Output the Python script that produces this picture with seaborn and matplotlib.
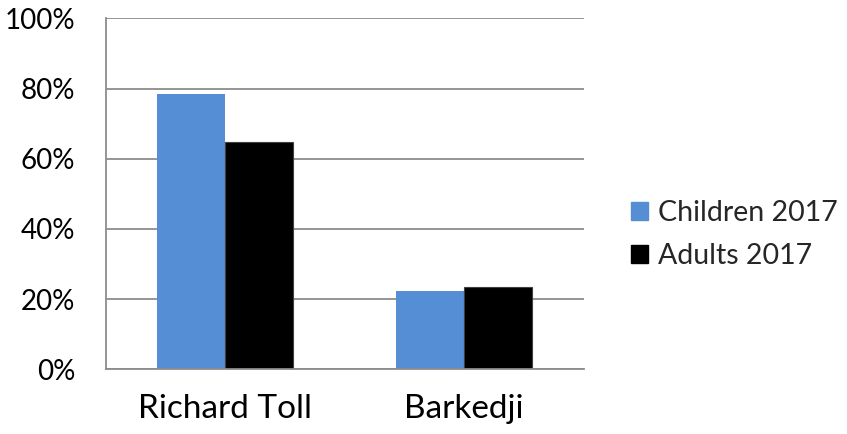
import matplotlib
matplotlib.use("Agg")
import matplotlib.pyplot as plt
import seaborn as sns
import pandas as pd
from matplotlib.ticker import FixedLocator, PercentFormatter
from matplotlib.patches import Patch

sites = ["Richard Toll", "Barkedji"]
children_2017 = [78.3, 22.4]
adults_2017 = [64.8, 23.5]
series_labels = ["Children 2017", "Adults 2017"]
y_ticks = [0, 20, 40, 60, 80, 100]

df = pd.DataFrame({
    "site": sites * 2,
    "value": children_2017 + adults_2017,
    "group": [series_labels[0]] * len(sites) + [series_labels[1]] * len(sites),
})

sns.set_style("white")
plt.rcParams["font.family"] = ["Lato", "DejaVu Sans"]

blue = "#558ED5"
grid_gray = "#8C8C8C"

fig = plt.figure(figsize=(8.47, 4.34), dpi=100)
ax = fig.add_axes([0.1248, 0.149, 0.5643, 0.8088])

sns.barplot(data=df, x="site", y="value", hue="group", order=sites,
            hue_order=series_labels, palette=[blue, "#000000"],
            width=0.57, gap=0, ax=ax, legend=False, errorbar=None,
            saturation=1)
for p in ax.patches:
    if p.get_facecolor()[0] < 0.1:
        p.set_edgecolor("#404040")
        p.set_linewidth(0.8)
    else:
        p.set_edgecolor(blue)
        p.set_linewidth(0)

ax.set_xlim(-0.5, 1.5)
ax.set_ylim(0, 100)
ax.yaxis.set_major_locator(FixedLocator(y_ticks))
ax.yaxis.set_major_formatter(PercentFormatter(decimals=0))
ax.grid(axis="y", color=grid_gray, linewidth=1.3)
ax.set_axisbelow(True)

for s in ["top", "right"]:
    ax.spines[s].set_visible(False)
for s in ["left", "bottom"]:
    ax.spines[s].set_color(grid_gray)
    ax.spines[s].set_linewidth(1.3)

ax.set_xlabel("")
ax.set_ylabel("")
ax.tick_params(axis="y", length=10, width=1.3, color=grid_gray,
               labelsize=20, pad=12, labelcolor="black")
ax.tick_params(axis="x", which="major", length=0, labelsize=24, pad=18,
               labelcolor="black")
ax.set_xticks([-0.5, 0.5, 1.5], minor=True)
ax.tick_params(axis="x", which="minor", length=12, width=1.3, color=grid_gray)

handles = [Patch(facecolor=blue, edgecolor=blue),
           Patch(facecolor="#000000", edgecolor="#000000")]
fig.legend(handles, series_labels, loc="center left",
           bbox_to_anchor=(0.731, 0.46), frameon=False, fontsize=20.5,
           handlelength=0.6, handleheight=0.6, handletextpad=0.35,
           labelspacing=0.58, borderaxespad=0)

fig.savefig("out.png", dpi=100)
